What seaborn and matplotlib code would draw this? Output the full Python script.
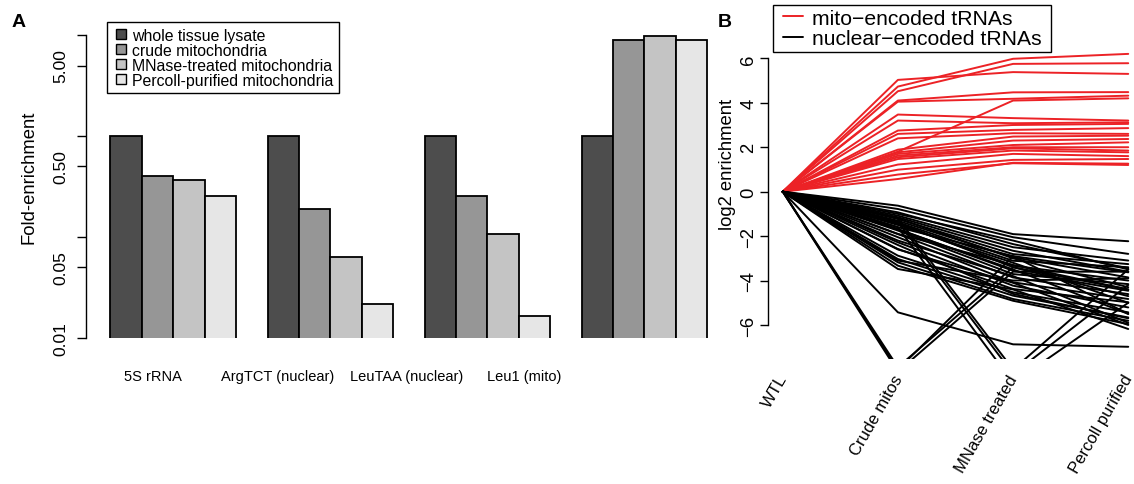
import matplotlib
matplotlib.use("Agg")
import matplotlib.pyplot as plt
from matplotlib.patches import Patch
from matplotlib.lines import Line2D
from matplotlib.legend_handler import HandlerPatch, HandlerLine2D
from matplotlib.ticker import NullLocator
from matplotlib.transforms import ScaledTranslation
import numpy as np
import pandas as pd
import seaborn as sns

# ---------------- data: panel A ----------------
targets = ["5S rRNA", "ArgTCT (nuclear)", "LeuTAA (nuclear)", "Leu1 (mito)"]
fractions = ["whole tissue lysate", "crude mitochondria",
             "MNase-treated mitochondria", "Percoll-purified mitochondria"]
whole_tissue = [1.0, 1.0, 1.0, 1.0]
crude_mito = [0.40, 0.19, 0.256, 8.99]
mnase_mito = [0.366, 0.063, 0.107, 9.85]
percoll_mito = [0.256, 0.0217, 0.0165, 8.99]
grey_colors = ["#4D4D4D", "#969696", "#C4C4C4", "#E6E6E6"]
ytick_vals = [0.01, 0.05, 0.1, 0.5, 1, 5, 10]
ytick_labels = ["0.01", "0.05", "", "0.50", "", "5.00", ""]

# ---------------- data: panel B ----------------
stages = ["WTL", "Crude mitos", "MNase treated", "Percoll purified"]
mito_wtl = [0.0, 0.0, 0.0, 0.0, 0.0, 0.0, 0.0, 0.0, 0.0, 0.0, 0.0,
            0.0, 0.0, 0.0, 0.0, 0.0, 0.0, 0.0, 0.0, 0.0, 0.0]
mito_crude = [5.03, 4.73, 4.52, 4.10, 4.05, 1.80, 3.47, 3.20, 2.75, 2.60, 2.40,
              1.89, 1.77, 1.70, 1.62, 1.55, 1.47, 1.22, 0.99, 0.77, 0.57]
mito_mnase = [5.38, 5.98, 5.75, 4.47, 4.18, 4.10, 3.31, 3.08, 3.00, 2.78, 2.63,
              2.48, 2.30, 2.10, 2.00, 1.95, 1.85, 1.70, 1.43, 1.28, 1.30]
mito_percoll = [5.30, 6.20, 5.78, 4.48, 4.32, 4.20, 3.20, 3.12, 3.05, 2.86, 2.60,
                2.52, 2.37, 2.22, 2.00, 1.85, 1.77, 1.60, 1.47, 1.20, 1.26]

nuc_wtl = [0.0, 0.0, 0.0, 0.0, 0.0, 0.0, 0.0, 0.0, 0.0, 0.0,
           0.0, 0.0, 0.0, 0.0, 0.0, 0.0, 0.0, 0.0, 0.0, 0.0,
           0.0, 0.0, 0.0, 0.0, 0.0, 0.0, 0.0, 0.0, 0.0, 0.0,
           0.0, 0.0, 0.0, 0.0, 0.0, 0.0, 0.0, 0.0]
nuc_crude = [-0.63, -0.78, -0.93, -1.08, -1.15, -1.23, -1.31, -1.38, -1.45, -1.60,
             -1.68, -1.75, -1.91, -2.05, -2.28, -2.58, -2.88, -3.03, -3.18, -3.33,
             -3.48, -1.00, -1.20, -1.40, -1.50, -1.70, -2.20, -2.60, -1.90, -2.40,
             -3.10, -5.43, -7.90, -8.00, -8.10, -1.20, -1.35, -1.60]
nuc_mnase = [-1.91, -2.05, -2.36, -2.50, -2.66, -2.81, -2.95, -3.11, -3.33, -2.90,
             -3.56, -3.71, -3.86, -4.08, -4.23, -4.38, -4.53, -4.68, -4.83, -4.91,
             -4.40, -2.20, -3.00, -3.40, -3.20, -3.50, -3.80, -4.10, -3.30, -4.60,
             -4.00, -6.87, -3.40, -2.90, -3.60, -8.00, -8.20, -8.60]
nuc_percoll = [-2.23, -2.80, -3.45, -3.10, -3.60, -3.26, -3.86, -3.40, -4.00, -3.63,
               -4.46, -4.16, -4.61, -4.83, -5.21, -4.98, -5.43, -5.66, -5.81, -5.96,
               -6.18, -3.50, -4.30, -4.70, -5.00, -5.50, -5.90, -6.00, -4.40, -5.70,
               -3.90, -6.98, -4.40, -5.50, -3.60, -3.50, -4.20, -5.00]
group_labels = ["mito\u2212encoded tRNAs", "nuclear\u2212encoded tRNAs"]
group_colors = ["#EC2226", "#000000"]

# ---------------- style ----------------
sns.set_style("ticks")
plt.rcParams["font.family"] = ["Liberation Sans", "DejaVu Sans"]
plt.rcParams["axes.unicode_minus"] = True
for key in ["text.color", "axes.labelcolor", "xtick.color", "ytick.color",
            "axes.edgecolor"]:
    plt.rcParams[key] = "black"

W, H = 1134, 485
fig = plt.figure(figsize=(W / 100, H / 100), dpi=100)

# ================= Panel A =================
axA = fig.add_axes([86 / W, (H - 339) / H, (731 - 86) / W, (339 - 24) / H])
axA.set_yscale("log")
dfA = pd.DataFrame({
    "target": targets * 4,
    "fraction": [f for f in fractions for _ in targets],
    "value": whole_tissue + crude_mito + mnase_mito + percoll_mito,
})
sns.barplot(data=dfA, x="target", y="value", hue="fraction", order=targets,
            hue_order=fractions, palette=grey_colors, saturation=1, width=0.8,
            edgecolor="black", linewidth=1.3, errorbar=None, legend=False, ax=axA)
axA.set_ylim(0.01, 13.18)
axA.set_xlim(-0.556, 3.551)
axA.set_yticks(ytick_vals)
axA.set_yticklabels(ytick_labels)
axA.yaxis.set_minor_locator(NullLocator())
axA.tick_params(axis="y", length=6.5, width=1, labelsize=12.6, pad=6,
                labelrotation=90)
for lab in axA.get_yticklabels():
    lab.set_va("center")
label_pos = [-0.129, 0.661, 1.486, 2.232]
axA.set_xticks(label_pos)
axA.set_xticklabels(targets)
axA.tick_params(axis="x", length=0, pad=22.5, labelsize=10.5)
for s in ["top", "right", "bottom"]:
    axA.spines[s].set_visible(False)
axA.spines["left"].set_bounds(0.01, 10)
axA.spines["left"].set_linewidth(1)
axA.set_xlabel("")
axA.set_ylabel("Fold-enrichment", fontsize=13.3)
axA.yaxis.set_label_coords((37.5 - 86) / (731 - 86), 0.513)

handlesA = [Patch(facecolor=c, edgecolor="black", linewidth=1) for c in grey_colors]
legA = axA.legend(handlesA, fractions, loc="upper left",
                  bbox_to_anchor=(107.3 / W, (H - 94) / H, 231.7 / W, 70.7 / H),
                  bbox_transform=fig.transFigure, mode="expand", borderaxespad=0,
                  fontsize=11.4, fancybox=False, framealpha=1, edgecolor="black",
                  borderpad=0.35, labelspacing=0.0, handlelength=0.84,
                  handleheight=0.63, handletextpad=0.38,
                  handler_map={Patch: HandlerPatch(xpad=0.21)})
legA.get_frame().set_linewidth(1)

# ================= Panel B =================
axB = fig.add_axes([768 / W, (H - 360) / H, (1134 - 768) / W, (360 - 40) / H])
rows = []
for grp, vals in [(group_labels[0], (mito_wtl, mito_crude, mito_mnase, mito_percoll)),
                  (group_labels[1], (nuc_wtl, nuc_crude, nuc_mnase, nuc_percoll))]:
    for i in range(len(vals[0])):
        for k in range(4):
            rows.append({"group": grp, "line": f"{grp}_{i}", "stage": k + 1,
                         "value": vals[k][i]})
dfB = pd.DataFrame(rows)
sns.lineplot(data=dfB, x="stage", y="value", hue="group", units="line",
             estimator=None, palette=dict(zip(group_labels, group_colors)),
             hue_order=group_labels, linewidth=1.4, legend=False, ax=axB)
axB.set_xlim(0.872, 4.05)
axB.set_ylim(-7.53, 6.87)
axB.set_yticks([-6, -4, -2, 0, 2, 4, 6])
axB.tick_params(axis="y", length=5.8, width=1, labelsize=13.3, pad=2,
                labelrotation=90)
for lab in axB.get_yticklabels():
    lab.set_va("center")
axB.set_xticks([1, 2, 3, 4])
axB.set_xticklabels(stages, rotation=60, ha="right", rotation_mode="anchor",
                    va="baseline")
axB.tick_params(axis="x", length=0, pad=13.5, labelsize=12)
shift = ScaledTranslation(5 / 100, 0, fig.dpi_scale_trans)
for lab in axB.get_xticklabels():
    lab.set_transform(lab.get_transform() + shift)
for s in ["top", "right", "bottom"]:
    axB.spines[s].set_visible(False)
axB.spines["left"].set_bounds(-6, 6)
axB.spines["left"].set_linewidth(1)
axB.set_xlabel("")
axB.set_ylabel("log2 enrichment", fontsize=13.3)
axB.yaxis.set_label_coords((736 - 768) / (1134 - 768), 0.611)

handlesB = [Line2D([], [], color=c, linewidth=1.4) for c in group_colors]
legB = axB.legend(handlesB, group_labels, loc="upper left",
                  bbox_to_anchor=(772.7 / W, (H - 53.3) / H, 278.3 / W, 47.3 / H),
                  bbox_transform=fig.transFigure, mode="expand", borderaxespad=0,
                  fontsize=15.2, fancybox=False, framealpha=1, edgecolor="black",
                  borderpad=0.18, labelspacing=0.07, handlelength=1.26,
                  handletextpad=0.44,
                  handler_map={Line2D: HandlerLine2D(xpad=0.29)})
legB.get_frame().set_linewidth(1)

fig.text(12 / W, 1 - 27 / H, "A", fontsize=14, fontweight="bold", ha="left",
         va="baseline")
fig.text(718 / W, 1 - 27 / H, "B", fontsize=14, fontweight="bold", ha="left",
         va="baseline")

fig.savefig("out.png", dpi=100)
